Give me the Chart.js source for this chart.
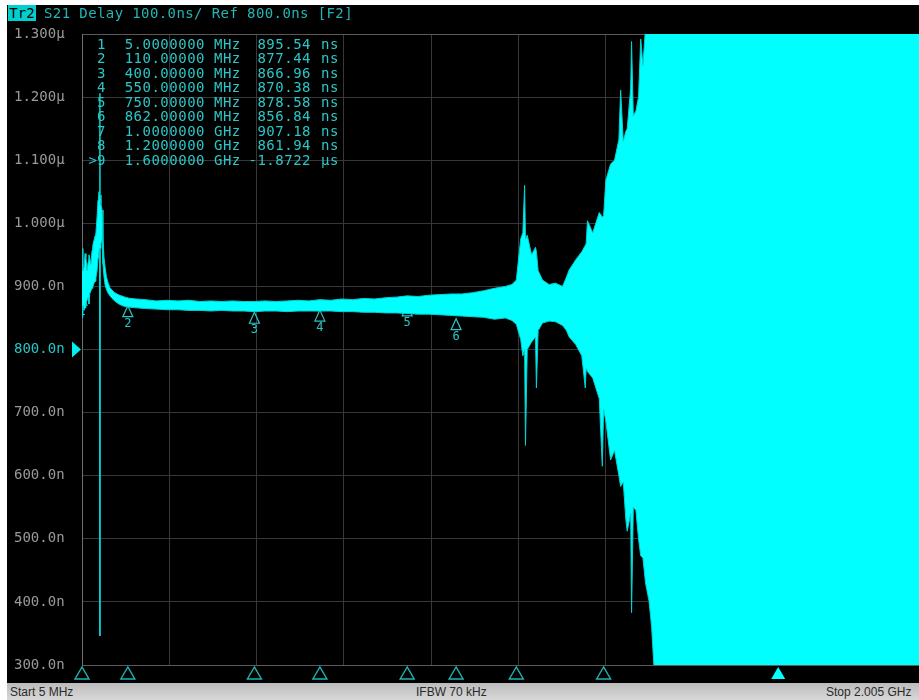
<!DOCTYPE html>
<html>
<head>
<meta charset="utf-8">
<script src="https://cdn.jsdelivr.net/npm/chart.js@4.4.1/dist/chart.umd.min.js"></script>
<style>
  html, body { margin: 0; padding: 0; background: #fff; width: 919px; height: 700px; overflow: hidden; }
  #screen { position: absolute; left: 7px; top: 5px; width: 912px; height: 678px; background: #000; overflow: hidden; }
  #plot { position: absolute; left: 0; top: 0; }
  #hdr { position: absolute; left: 0; top: 0; height: 17px; font: 14px 'DejaVu Sans Mono', monospace; line-height: 16px; white-space: pre; }
  #hdr .tr { position: absolute; left: 1px; top: 0; width: 28px; height: 16px; background: #00cfcf; color: #000; text-align: center; }
  #hdr .info { position: absolute; left: 37px; top: 0; color: #22b6b6; letter-spacing: 0.4px; }
  #status { position: absolute; left: 7px; top: 683px; width: 912px; height: 17px; background: linear-gradient(#bcbcbc, #d8d8d8); font: 12px 'Liberation Sans Narrow', 'Liberation Sans', sans-serif; color: #2a2a2a; line-height: 18px; white-space: pre; }
  #status span { position: absolute; top: 0; }
</style>
</head>
<body>
<div id="screen">
  <canvas id="plot" width="948" height="678" style="width:948px;height:678px"></canvas>
  <div id="hdr"><span class="tr">Tr2</span><span class="info">S21 Delay 100.0ns/ Ref 800.0ns [F2]</span></div>
</div>
<div id="status"><span style="left:3px">Start 5 MHz</span><span style="left:409px">IFBW 70 kHz</span><span style="left:819px">Stop 2.005 GHz</span></div>
<script>
// Sweep: frequency points (MHz) with the upper / lower edges of the noisy delay trace (ns)
const freqMHz = [
  5, 7, 9.6, 12, 14, 16.5, 19, 21, 23, 25.5, 28, 30, 32.5, 35, 37, 39.5, 41.7, 43.5, 45.6, 46, 46.4,
  48.5, 51, 53, 55.5, 58, 61, 65, 69, 74, 80, 87.5, 95, 103.5, 115,
  130, 150, 175, 200, 225, 250, 275, 300, 325, 350, 375, 400, 425, 450, 475, 500, 525, 550, 575,
  600, 625, 650, 675, 700, 725, 750, 775, 800, 825, 850, 875, 900, 925, 950, 975, 990,
  1000, 1010, 1015, 1019, 1021, 1025, 1035, 1044, 1046, 1050, 1060, 1075, 1090, 1106, 1115, 1121,
  1136, 1150, 1158, 1160, 1163, 1175, 1190, 1197, 1200, 1205, 1216, 1225, 1235, 1239, 1245, 1251,
  1254, 1262, 1264, 1268, 1274, 1280, 1285, 1290, 1296, 1304, 1310, 1316, 1325, 2005
];
const upperNs = [
  960, 925, 930, 952, 946, 925, 938, 950, 944, 935, 957, 966, 973, 980, 986, 1010, 1037, 1050, 1045, 1206, 1045,
  1030, 1021, 973, 945, 930, 915, 905, 898, 894, 890, 887, 885, 883, 881,
  880, 879, 877, 878, 877, 878, 876, 877, 876, 877, 876, 876, 877, 876, 877, 878, 877, 879, 878,
  880, 879, 881, 880, 882, 883, 885, 884, 886, 887, 888, 888, 890, 893, 897, 900, 903,
  910, 975, 985, 1060, 975, 981, 950, 962, 955, 925, 910, 903, 905, 900, 915, 926,
  942, 955, 965, 968, 1004, 985, 1017, 1010, 1012, 1068, 1094, 1100, 1133, 1211, 1130, 1146,
  1150, 1214, 1288, 1170, 1178, 1200, 1292, 1250, 1310, 1310, 1310, 1310, 1310, 1310
];
const lowerNs = [
  851, 870, 862, 866, 873, 878, 883, 872, 889, 893, 897, 900, 905, 908, 914, 925, 945, 955, 960, 346, 960,
  968, 973, 936, 915, 902, 895, 889, 885, 881, 877, 873, 870, 868, 867,
  866, 865, 864, 863, 863, 862, 862, 861, 862, 861, 861, 860, 861, 861, 860, 861, 861, 861, 861,
  860, 860, 859, 859, 858, 858, 857, 856, 856, 855, 854, 853, 852, 851, 848, 850, 846,
  840, 816, 790, 800, 648, 800, 812, 820, 739, 830, 842, 845, 844, 838, 830, 820,
  808, 790, 739, 770, 765, 755, 722, 615, 705, 687, 625, 640, 600, 583, 590, 530,
  512, 540, 383, 550, 545, 500, 473, 470, 430, 402, 360, 290, 290, 290
];

// Axes: vertical division lines (MHz) and delay ticks with their labels
const xGridMHz = [5, 205, 405, 605, 805, 1005, 1205, 1405, 1605, 1805, 2005];
const yTicksNs = [300, 400, 500, 600, 700, 800, 900, 1000, 1100, 1200, 1300];
const yTickLabels = ['300.0n', '400.0n', '500.0n', '600.0n', '700.0n', '800.0n', '900.0n', '1.000\u00b5', '1.100\u00b5', '1.200\u00b5', '1.300\u00b5'];
const refLevelNs = 800;

// Markers: stimulus (MHz) and response (ns); the last one is the active marker
const markerFreqMHz = [5, 110, 400, 550, 750, 862, 1000, 1200, 1600];
const markerDelayNs = [895.54, 877.44, 866.96, 870.38, 878.58, 856.84, 907.18, 861.94, -1872.2];
const activeMarker = 8;

const TEAL = '#2cc6c6';
const MONO = '"DejaVu Sans Mono", monospace';

function freqText(f) {
  return f >= 1000 ? [(f / 1000).toPrecision(8), 'GHz'] : [f.toPrecision(8), 'MHz'];
}
function delayText(v) {
  return Math.abs(v) >= 1000 ? [(v / 1000).toFixed(4), '\u00b5s'] : [v.toFixed(2), 'ns'];
}

const vnaOverlay = {
  id: 'vnaOverlay',
  beforeDatasetsDraw(chart) {
    // on-trace marker flags, drawn under the trace
    const { ctx, chartArea: a, scales: { x, y } } = chart;
    ctx.save();
    ctx.beginPath();
    ctx.rect(a.left, a.top, a.right - a.left, a.bottom - a.top);
    ctx.clip();
    ctx.strokeStyle = TEAL;
    ctx.fillStyle = TEAL;
    ctx.lineWidth = 1.2;
    ctx.font = '12px ' + MONO;
    ctx.textAlign = 'center';
    ctx.textBaseline = 'top';
    markerFreqMHz.forEach((f, i) => {
      const v = markerDelayNs[i];
      if (v < 300 || v > 1300) return;
      const px = x.getPixelForValue(f);
      const py = y.getPixelForValue(v) + 5;
      ctx.beginPath();
      ctx.moveTo(px, py);
      ctx.lineTo(px - 5, py + 11);
      ctx.lineTo(px + 5, py + 11);
      ctx.closePath();
      ctx.stroke();
      ctx.fillText(String(i + 1), px, py + 12);
    });
    ctx.restore();
  },
  afterDraw(chart) {
    const { ctx, chartArea: a, scales: { x, y } } = chart;
    ctx.save();

    // marker table
    ctx.font = '14px ' + MONO;
    ctx.fillStyle = TEAL;
    ctx.textBaseline = 'middle';
    ctx.letterSpacing = '0.5px';
    markerFreqMHz.forEach((f, i) => {
      const ry = 40 + i * 14.5;
      const [ft, fu] = freqText(f);
      const [vt, vu] = delayText(markerDelayNs[i]);
      ctx.textAlign = 'right';
      ctx.fillText(String(i + 1), 99, ry);
      ctx.fillText(ft, 198, ry);
      ctx.fillText(vt, 304, ry);
      ctx.textAlign = 'left';
      ctx.fillText(fu, 207, ry);
      ctx.fillText(vu, 314, ry);
      if (i === activeMarker) {
        ctx.textAlign = 'center';
        ctx.fillText('>', 86, ry);
      }
    });
    ctx.letterSpacing = '0px';

    // reference level arrow
    const ry = y.getPixelForValue(refLevelNs);
    ctx.fillStyle = '#00f0f0';
    ctx.beginPath();
    ctx.moveTo(65, ry - 8);
    ctx.lineTo(74, ry);
    ctx.lineTo(65, ry + 8);
    ctx.closePath();
    ctx.fill();

    // marker stimulus flags under the grid
    ctx.lineWidth = 1.4;
    markerFreqMHz.forEach((f, i) => {
      const px = x.getPixelForValue(f);
      const top = a.bottom + 2, base = a.bottom + 14;
      ctx.beginPath();
      ctx.moveTo(px, top);
      ctx.lineTo(px - 7, base);
      ctx.lineTo(px + 7, base);
      ctx.closePath();
      if (i === activeMarker) {
        ctx.fillStyle = '#00ffff';
        ctx.fill();
      } else {
        ctx.strokeStyle = '#1fb4b4';
        ctx.stroke();
      }
    });
    ctx.restore();
  }
};

const pts = arr => freqMHz.map((f, i) => ({ x: f, y: arr[i] }));

new Chart(document.getElementById('plot'), {
  type: 'line',
  data: {
    datasets: [
      { data: pts(upperNs), borderColor: '#00d4d4', borderWidth: 1, pointRadius: 0, fill: false, tension: 0 },
      { data: pts(lowerNs), borderColor: '#00d4d4', borderWidth: 1, pointRadius: 0, fill: '-1', backgroundColor: '#00ffff', tension: 0 }
    ]
  },
  options: {
    responsive: false,
    maintainAspectRatio: false,
    animation: false,
    devicePixelRatio: 1,
    layout: { padding: { top: 29, bottom: 18, left: 7, right: 0 } },
    plugins: { legend: { display: false }, tooltip: { enabled: false } },
    scales: {
      x: {
        type: 'linear',
        min: 5,
        max: 2005,
        afterBuildTicks: s => { s.ticks = xGridMHz.map(v => ({ value: v })); },
        afterFit: s => { s.height = 0; },
        ticks: { display: false },
        grid: { color: '#383838', drawTicks: false, lineWidth: 1 },
        border: { display: false }
      },
      y: {
        min: 300,
        max: 1300,
        afterBuildTicks: s => { s.ticks = yTicksNs.map(v => ({ value: v })); },
        afterFit: s => { s.width = 68; },
        ticks: {
          padding: 0,
          crossAlign: 'far',
          font: { family: 'DejaVu Sans Mono', size: 14 },
          color: c => (c.tick && c.tick.value === refLevelNs ? '#22c8c8' : '#9a9a9a'),
          callback: (v, i) => yTickLabels[i]
        },
        grid: {
          color: c => (c.tick && (c.tick.value === 1300 || c.tick.value === 300) ? '#5a5a5a' : '#383838'),
          drawTicks: false,
          lineWidth: 1
        },
        border: { display: true, color: '#707070', width: 1 }
      }
    }
  },
  plugins: [vnaOverlay]
});
</script>
</body>
</html>
